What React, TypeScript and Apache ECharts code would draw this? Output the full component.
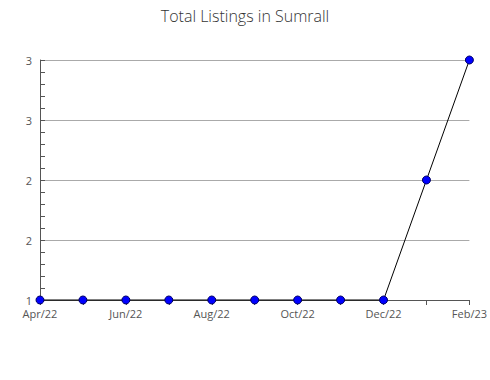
import React, { useEffect, useRef } from "react";
import * as echarts from "echarts";

const months = ["Apr/22", "May/22", "Jun/22", "Jul/22", "Aug/22", "Sep/22", "Oct/22", "Nov/22", "Dec/22", "Jan/23", "Feb/23"];
const listings = [1, 1, 1, 1, 1, 1, 1, 1, 1, 2, 3];
const chartTitle = "Total Listings in Sumrall";

export default function App() {
  const ref = useRef<HTMLDivElement>(null);
  useEffect(() => {
    if (!ref.current) return;
    const chart = echarts.init(ref.current, undefined, { renderer: "svg" });
    chart.setOption({
      animation: false,
      backgroundColor: "#ffffff",
      title: {
        text: chartTitle,
        left: "center",
        top: 3,
        textStyle: { fontFamily: "Open Sans", fontWeight: 300, fontSize: 16, color: "#333" },
      },
      grid: { left: 40, right: 20, top: 60, bottom: 80 },
      xAxis: {
        type: "category",
        data: months,
        boundaryGap: false,
        axisLine: { lineStyle: { color: "#555" } },
        axisTick: { show: true, interval: 0, length: 5, lineStyle: { color: "#555" } },
        axisLabel: { interval: 1, color: "#555", fontFamily: "Open Sans", fontSize: 11, lineHeight: 11, margin: 8 },
        splitLine: { show: false },
      },
      yAxis: {
        type: "value",
        min: 1,
        max: 3,
        interval: 0.5,
        axisLine: { show: true, lineStyle: { color: "#555" } },
        axisTick: { show: true, inside: true, length: 5, lineStyle: { color: "#555" } },
        minorTick: { show: true, splitNumber: 5, length: 5, lineStyle: { color: "#555" } },
        axisLabel: {
          color: "#555",
          fontFamily: "Open Sans",
          fontSize: 11,
          lineHeight: 10,
          margin: 8,
          padding: [0, 0, 2, 0],
          formatter: (v: number) => String(Math.round(v)),
        },
        splitLine: { show: true, lineStyle: { color: "#aaa" } },
      },
      series: [
        {
          type: "line",
          data: listings,
          symbol: "circle",
          symbolSize: 8,
          itemStyle: { color: "#0000ff", borderColor: "#000066", borderWidth: 1 },
          lineStyle: { color: "#000", width: 1 },
          clip: false,
        },
      ],
    });
    return () => chart.dispose();
  }, []);
  return <div ref={ref} style={{ width: 490, height: 380, position: "absolute", left: 0, top: 0 }} />;
}
